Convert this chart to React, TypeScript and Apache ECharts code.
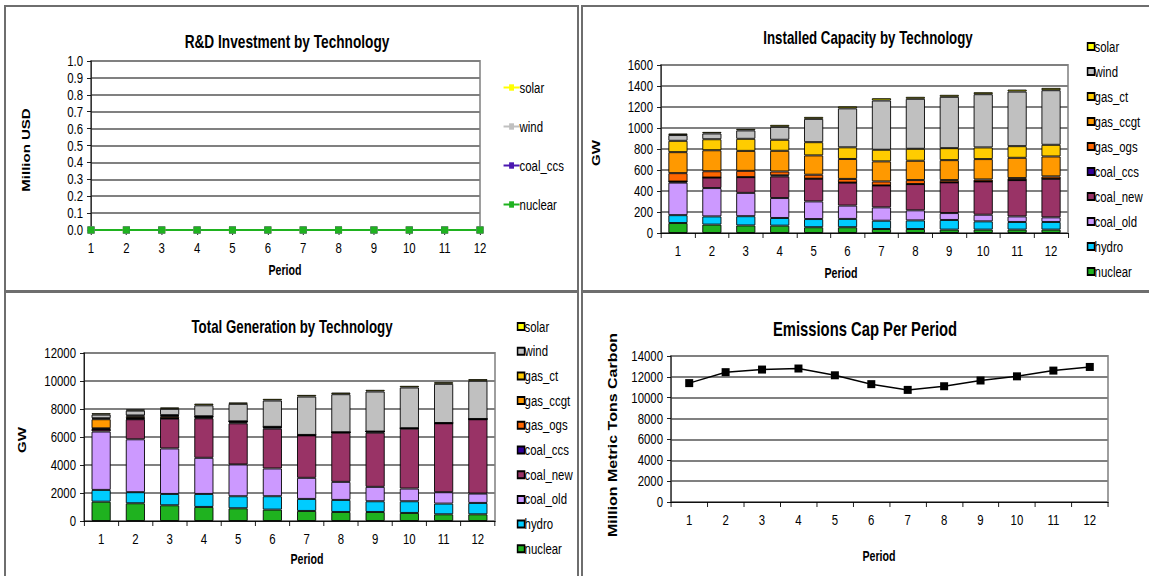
import React, { useEffect, useRef } from "react";
import * as echarts from "echarts";

// ---------------- DATA ----------------
const periods = ["1", "2", "3", "4", "5", "6", "7", "8", "9", "10", "11", "12"];

// R&D investment (Million USD) – all zero in the reference
const rdSolar = [0, 0, 0, 0, 0, 0, 0, 0, 0, 0, 0, 0];
const rdWind = [0, 0, 0, 0, 0, 0, 0, 0, 0, 0, 0, 0];
const rdCoalCcs = [0, 0, 0, 0, 0, 0, 0, 0, 0, 0, 0, 0];
const rdNuclear = [0, 0, 0, 0, 0, 0, 0, 0, 0, 0, 0, 0];

// Installed capacity (GW)
const capNuclear = [95, 80, 72, 70, 55, 55, 38, 38, 32, 32, 32, 32];
const capHydro = [75, 78, 88, 73, 78, 79, 79, 82, 92, 79, 73, 73];
const capCoalOld = [310, 270, 222, 190, 168, 127, 127, 96, 66, 63, 53, 44];
const capCoalNew = [10, 100, 150, 206, 216, 219, 209, 250, 292, 317, 346, 368];
const capCoalCcs = [0, 0, 0, 10, 0, 0, 0, 0, 0, 0, 0, 0];
const capGasOgs = [80, 60, 60, 37, 38, 35, 38, 38, 22, 19, 19, 22];
const capGasCcgt = [200, 200, 190, 197, 184, 190, 191, 184, 190, 194, 193, 190];
const capGasCt = [108, 105, 115, 105, 126, 111, 111, 114, 114, 111, 111, 111];
const capWind = [55, 55, 80, 123, 222, 371, 469, 476, 489, 507, 520, 520];
const capSolar = [15, 15, 15, 19, 19, 19, 22, 19, 19, 19, 19, 22];

// Total generation (GW as labelled)
const genNuclear = [1380, 1267, 1123, 1004, 908, 813, 717, 645, 645, 574, 478, 478];
const genHydro = [840, 790, 810, 930, 860, 956, 860, 860, 765, 836, 765, 812];
const genCoalOld = [4170, 3780, 3250, 2580, 2270, 1983, 1506, 1290, 1028, 908, 812, 670];
const genCoalNew = [150, 1430, 2130, 2820, 2940, 2844, 3035, 3514, 3872, 4278, 4924, 5306];
const genCoalCcs = [20, 30, 20, 50, 80, 100, 30, 30, 80, 30, 20, 20];
const genGasOgs = [60, 60, 120, 60, 60, 30, 0, 0, 0, 0, 0, 0];
const genGasCcgt = [650, 120, 60, 20, 0, 0, 0, 0, 0, 0, 0, 0];
const genGasCt = [70, 60, 50, 20, 0, 0, 0, 0, 0, 0, 0, 0];
const genWind = [260, 350, 450, 780, 1250, 1880, 2740, 2718, 2860, 2910, 2800, 2730];
const genSolar = [100, 80, 100, 120, 100, 120, 120, 120, 120, 120, 120, 120];

// Emissions cap (Million Metric Tons Carbon)
const emissionsCap = [11400, 12450, 12700, 12800, 12150, 11300, 10750, 11100, 11650, 12050, 12600, 12950];

const techOrder = ["nuclear", "hydro", "coal_old", "coal_new", "coal_ccs", "gas_ogs", "gas_ccgt", "gas_ct", "wind", "solar"];
const legendOrder = ["solar", "wind", "gas_ct", "gas_ccgt", "gas_ogs", "coal_ccs", "coal_new", "coal_old", "hydro", "nuclear"];
const rdLegend = ["solar", "wind", "coal_ccs", "nuclear"];

// ---------------- STYLE ----------------
const techColors: Record<string, string> = {
  nuclear: "#1FB21F",
  hydro: "#00CCFF",
  coal_old: "#CC99FF",
  coal_new: "#993366",
  coal_ccs: "#330099",
  gas_ogs: "#FF6600",
  gas_ccgt: "#FF9900",
  gas_ct: "#FFCC00",
  wind: "#C0C0C0",
  solar: "#FFFF00",
};
const rdColors: Record<string, string> = {
  solar: "#FFFF00",
  wind: "#C0C0C0",
  coal_ccs: "#4B18B0",
  nuclear: "#1FB21F",
};

// The reference's text is horizontally condensed; each chart is drawn wider
// and squeezed horizontally by S with a CSS transform.
const S = 0.76;
const X = (v: number) => v / S;

const FONT = '"Liberation Sans", Arial, sans-serif';
const TICK = 15;

const gridLine = { show: true, lineStyle: { color: "#808080", width: 2 } };

function text(x: number, y: number, t: string, size: number, rotate = false) {
  return {
    type: "text",
    x: X(x),
    y,
    rotation: rotate ? Math.PI / 2 : 0,
    silent: true,
    style: {
      text: t,
      fill: "#000",
      fontSize: size,
      fontWeight: "bold",
      fontFamily: FONT,
      align: "center",
      verticalAlign: "middle",
      textAlign: "center",
      textVerticalAlign: "middle",
    },
  };
}

function catAxis(boundaryGap: boolean) {
  return {
    type: "category",
    data: periods,
    boundaryGap,
    axisLine: { show: true, lineStyle: { color: "#000", width: 1 } },
    axisTick: { show: true, length: 5, lineStyle: { color: "#000" } },
    axisLabel: { color: "#000", fontFamily: FONT, fontSize: TICK, margin: 10 },
    splitLine: { show: false },
  };
}

function valAxis(max: number, interval: number, fmt: (v: number) => string) {
  return {
    type: "value",
    min: 0,
    max,
    interval,
    axisLine: { show: true, lineStyle: { color: "#000", width: 1 } },
    axisTick: { show: true, length: X(4), lineStyle: { color: "#000" } },
    axisLabel: { color: "#000", fontFamily: FONT, fontSize: TICK, margin: X(8), formatter: fmt },
    splitLine: gridLine,
  };
}

const intFmt = (v: number) => String(v);

function barLegend(left: number, top: number, gap: number) {
  return {
    orient: "vertical",
    left: X(left),
    top,
    data: legendOrder,
    icon: "rect",
    itemWidth: X(7),
    itemHeight: 7,
    itemGap: gap,
    textStyle: { color: "#000", fontFamily: FONT, fontSize: TICK, padding: [0, 0, 0, -5] },
    selectedMode: false,
  };
}

function barSeries(data: Record<string, number[]>) {
  return techOrder.map((name) => ({
    name,
    type: "bar",
    stack: "total",
    barWidth: X(19),
    data: data[name],
    itemStyle: { color: techColors[name], borderColor: "#000", borderWidth: 1 },
  }));
}

function grid(left: number, top: number, width: number, height: number) {
  return {
    left: X(left),
    top,
    width: X(width),
    height,
    show: true,
    borderColor: "#808080",
    borderWidth: 2,
  };
}

// ---------------- OPTIONS ----------------
const rdOption = {
  animation: false,
  grid: grid(86, 55, 389, 169),
  xAxis: catAxis(false),
  yAxis: valAxis(1, 0.1, (v: number) => v.toFixed(1)),
  legend: {
    orient: "vertical",
    left: X(494),
    top: 69,
    data: rdLegend,
    itemWidth: X(16),
    itemHeight: 8,
    itemGap: 24,
    textStyle: { color: "#000", fontFamily: FONT, fontSize: TICK, padding: [0, 0, 0, -5] },
    selectedMode: false,
  },
  series: [
    { name: "solar", data: rdSolar },
    { name: "wind", data: rdWind },
    { name: "coal_ccs", data: rdCoalCcs },
    { name: "nuclear", data: rdNuclear },
  ].map((s) => ({
    ...s,
    type: "line",
    symbol: "rect",
    symbolSize: [X(7), 7],
    lineStyle: { color: rdColors[s.name], width: 2 },
    itemStyle: { color: rdColors[s.name] },
  })),
  graphic: [
    text(282, 36, "R&D Investment by Technology", 18),
    text(280, 264, "Period", 14),
    text(21, 144, "Million USD", 15, true),
  ],
};

const capOption = {
  animation: false,
  grid: grid(80, 59, 407, 168),
  xAxis: catAxis(true),
  yAxis: valAxis(1600, 200, intFmt),
  legend: barLegend(502, 28, 10),
  series: barSeries({
    nuclear: capNuclear,
    hydro: capHydro,
    coal_old: capCoalOld,
    coal_new: capCoalNew,
    coal_ccs: capCoalCcs,
    gas_ogs: capGasOgs,
    gas_ccgt: capGasCcgt,
    gas_ct: capGasCt,
    wind: capWind,
    solar: capSolar,
  }),
  graphic: [
    text(287, 32, "Installed Capacity by Technology", 17.5),
    text(260, 267, "Period", 14),
    text(15, 147, "GW", 15, true),
  ],
};

const genOption = {
  animation: false,
  grid: grid(79, 61, 411, 168),
  xAxis: catAxis(true),
  yAxis: valAxis(12000, 2000, intFmt),
  legend: barLegend(508, 22, 9.7),
  series: barSeries({
    nuclear: genNuclear,
    hydro: genHydro,
    coal_old: genCoalOld,
    coal_new: genCoalNew,
    coal_ccs: genCoalCcs,
    gas_ogs: genGasOgs,
    gas_ccgt: genGasCcgt,
    gas_ct: genGasCt,
    wind: genWind,
    solar: genSolar,
  }),
  graphic: [
    text(287, 35, "Total Generation by Technology", 17.5),
    text(302, 267, "Period", 14),
    text(17, 148, "GW", 15, true),
  ],
};

const emiOption = {
  animation: false,
  grid: grid(90, 64, 437, 146),
  xAxis: catAxis(true),
  yAxis: valAxis(14000, 2000, intFmt),
  series: [
    {
      name: "Emissions Cap",
      type: "line",
      data: emissionsCap,
      symbol: "rect",
      symbolSize: [X(8), 8],
      lineStyle: { color: "#000", width: 1.5 },
      itemStyle: { color: "#000" },
    },
  ],
  graphic: [
    text(284, 37, "Emissions Cap Per Period", 19.5),
    text(298, 264, "Period", 14),
    text(32, 143, "Million Metric Tons Carbon", 16, true),
  ],
};

// ---------------- COMPONENTS ----------------
function ChartPanel({ x, y, w, h, option }: { x: number; y: number; w: number; h: number; option: any }) {
  const ref = useRef<HTMLDivElement>(null);
  const cw = Math.round(w / S);
  useEffect(() => {
    const chart = echarts.init(ref.current!, undefined, { renderer: "svg", width: cw, height: h });
    chart.setOption(option);
    return () => chart.dispose();
  }, []);
  return (
    <div
      ref={ref}
      style={{
        position: "absolute",
        left: x,
        top: y,
        width: cw,
        height: h,
        transform: `scaleX(${S})`,
        transformOrigin: "0 0",
      }}
    />
  );
}

function Frame({ x, y, w, h }: { x: number; y: number; w: number; h: number }) {
  return (
    <div
      style={{
        position: "absolute",
        left: x,
        top: y,
        width: w,
        height: h,
        border: "2px solid #6e6e6e",
        boxSizing: "border-box",
      }}
    />
  );
}

export default function App() {
  return (
    <div
      style={{
        position: "fixed",
        left: 0,
        top: 0,
        width: 1149,
        height: 576,
        background: "#fff",
        overflow: "hidden",
      }}
    >
      <Frame x={4} y={5} w={575} h={287} />
      <Frame x={581} y={5} w={572} h={287} />
      <Frame x={4} y={291} w={575} h={290} />
      <Frame x={581} y={291} w={572} h={290} />
      <ChartPanel x={5} y={6} w={574} h={284} option={rdOption} />
      <ChartPanel x={581} y={6} w={568} h={284} option={capOption} />
      <ChartPanel x={5} y={292} w={574} h={284} option={genOption} />
      <ChartPanel x={581} y={292} w={568} h={284} option={emiOption} />
    </div>
  );
}
